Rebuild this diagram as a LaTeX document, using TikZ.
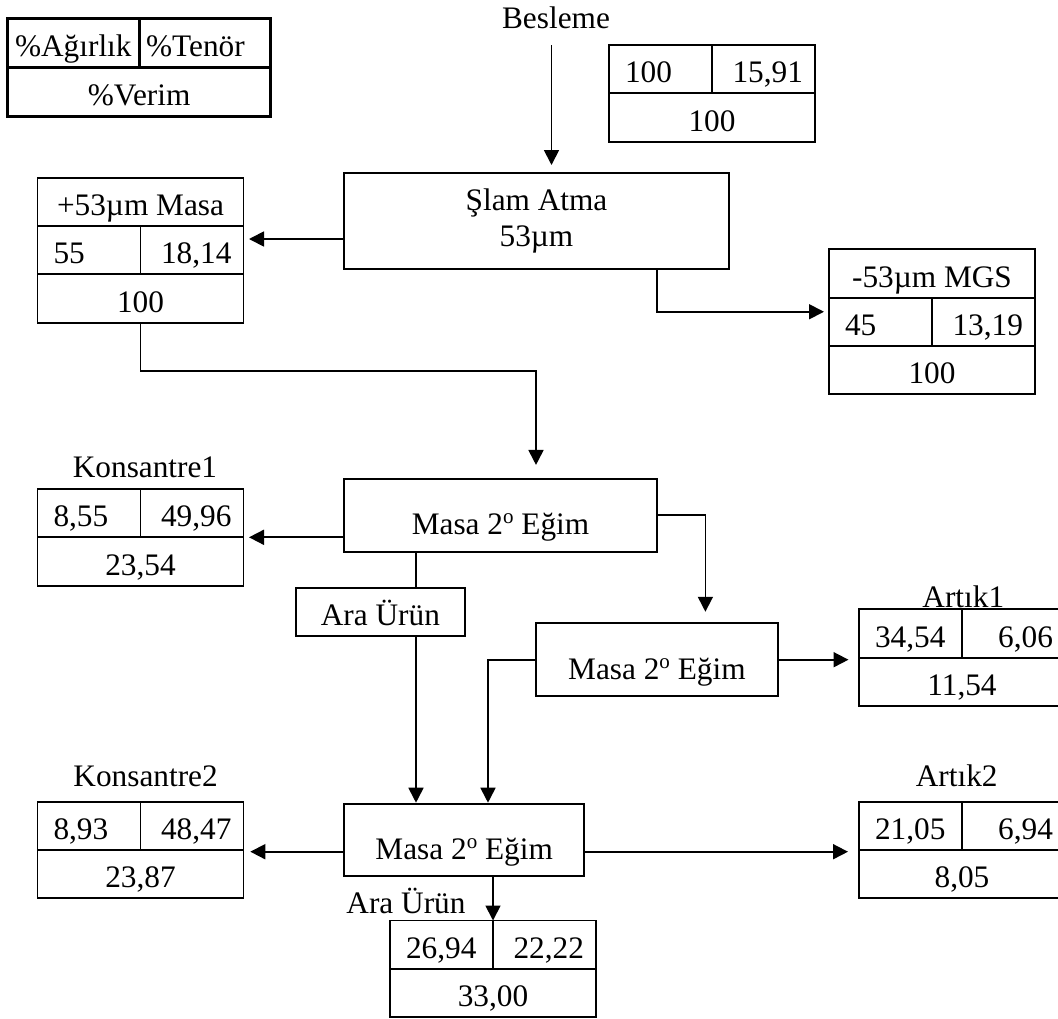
\documentclass[tikz,border=0pt]{standalone}
\usepackage{fontspec}
\setmainfont{Liberation Serif}
\usepackage{tikz}
\usetikzlibrary{arrows.meta}

\tikzset{
	every node/.style={font=\fontsize{31.3pt}{36pt}\selectfont},
	cell/.style={draw, line width=1.8pt, outer sep=0pt, inner sep=0pt, minimum height=48.3pt, text height=34pt, text depth=6.8pt},
	wcell/.style={cell, inner xsep=16pt, text width=71pt, align=left},
	gcell/.style={cell, inner xsep=12pt, text width=79pt, align=right},
	rcell/.style={cell, minimum width=206pt},
	legendcell/.style={cell, line width=2.8pt, minimum width=131.6pt, minimum height=49pt},
	proc/.style={draw, line width=1.8pt, outer sep=0pt, inner sep=0pt},
	stage/.style={proc, text height=46pt, text depth=7pt},
	link/.style={line width=1.8pt},
	flow/.style={link, -{Triangle[length=15pt,width=15pt]}}
}

% weight | grade on top, recovery below; #2 is the top left corner
\newcommand{\restable}[5]{%
	\node[wcell, anchor=north west] (#1w) at (#2) {#3};
	\node[gcell, anchor=north west] (#1g) at (#1w.north east) {#4};
	\node[rcell, anchor=north west] (#1r) at (#1w.south west) {#5};
}
\newcommand{\slope}{2\raisebox{11pt}{\fontsize{21pt}{21pt}\selectfont o}}

\begin{document}
\begin{tikzpicture}[x=1pt, y=-1pt]
	\useasboundingbox (0,0) rectangle (1058,1018);
	
	% legend
	\node[legendcell, anchor=north west] (keyw) at (7.5,18.3) {\%Ağırlık};
	\node[legendcell, anchor=north west, text width=117.6pt, inner xsep=7pt, align=left] (keyg) at (keyw.north east) {\%Tenör};
	\node[legendcell, anchor=north west, minimum width=263.2pt] (keyr) at (keyw.south west) {\%Verim};
	
	% stages
	\node[anchor=base] (besleme) at (556,28) {Besleme};
	\node[proc, align=center, minimum width=385pt, minimum height=96pt] (slam) at (536.5,221.3) {Şlam Atma\\53µm};
	\node[stage, minimum width=313pt, minimum height=72.7pt] (m1) at (500.5,515.3) {Masa \slope{} Eğim};
	\node[cell, minimum width=169.3pt, minimum height=48.6pt] (ara) at (380.4,612) {Ara Ürün};
	\node[stage, minimum width=242.3pt, minimum height=72.7pt] (m2) at (656.9,659.7) {Masa \slope{} Eğim};
	\node[stage, minimum width=240.3pt, minimum height=72pt] (m3) at (464.2,840) {Masa \slope{} Eğim};
	
	% products
	\restable{feed}{609,45}{100}{15,91}{100}
	\node[rcell, anchor=north west] (coarset) at (37.5,177.7) {+53µm Masa};
	\restable{coarse}{coarset.south west}{55}{18,14}{100}
	\node[rcell, anchor=north west] (finet) at (829,249.3) {-53µm MGS};
	\restable{fine}{finet.south west}{45}{13,19}{100}
	\node[anchor=base] (conc1lab) at (145,477.3) {Konsantre1};
	\restable{conc1}{37.5,489}{8,55}{49,96}{23,54}
	\node[anchor=base] (tail1lab) at (963.3,607.7) {Artık1};
	\restable{tail1}{859,609.3}{34,54}{6,06}{11,54}
	\node[anchor=base] (conc2lab) at (145.6,786) {Konsantre2};
	\restable{conc2}{37.5,801.7}{8,93}{48,47}{23,87}
	\node[anchor=base] (tail2lab) at (956.7,786) {Artık2};
	\restable{tail2}{859,801.7}{21,05}{6,94}{8,05}
	\node[anchor=base] (midslab) at (406,913.3) {Ara Ürün};
	\restable{mids}{390,920.5}{26,94}{22,22}{33,00}
	
	% connections
	\draw[flow, shorten >=8.3pt] ([xshift=-4.5pt,yshift=-17pt]besleme.base) -- ([xshift=15pt]slam.north);
	\draw[flow, shorten >=5.5pt] ([yshift=-17.7pt]slam.west) -- ([yshift=-17.7pt]slam.west -| coarseg.east);
	\draw[flow, shorten >=5pt] ([xshift=120.2pt]slam.south) |- ([yshift=10pt]finew.west);
	\draw[flow, shorten >=14pt] (coarser.south) -- ++(0,48) -| ([xshift=35.5pt]m1.north);
	\draw[flow, shorten >=5.5pt] ([yshift=-22pt]m1.west) -- ([yshift=-22pt]m1.west -| conc1g.east);
	\draw[flow, shorten >=11.6pt] (m1.east) -| ([xshift=48.5pt]m2.north);
	\draw[link] ([xshift=35.6pt]ara.north) -- ([xshift=35.6pt]ara.north |- m1.south);
	\draw[flow, shorten >=1.3pt] ([xshift=35.6pt]ara.south) -- ([xshift=35.6pt]ara.south |- m3.north);
	\draw[flow, shorten >=1.3pt] (m2.west) -| ([xshift=23.8pt]m3.north);
	\draw[flow, shorten >=10.5pt] (m2.east) -- (m2.east -| tail1w.west);
	\draw[flow, shorten >=6.8pt] ([yshift=-11.7pt]m3.west) -- ([yshift=-11.7pt]m3.west -| conc2g.east);
	\draw[flow, shorten >=11pt] ([yshift=-11.7pt]m3.east) -- ([yshift=-11.7pt]m3.east -| tail2w.west);
	\draw[flow] (midsw.north east |- m3.south) -- (midsw.north east);
	
\end{tikzpicture}
\end{document}
